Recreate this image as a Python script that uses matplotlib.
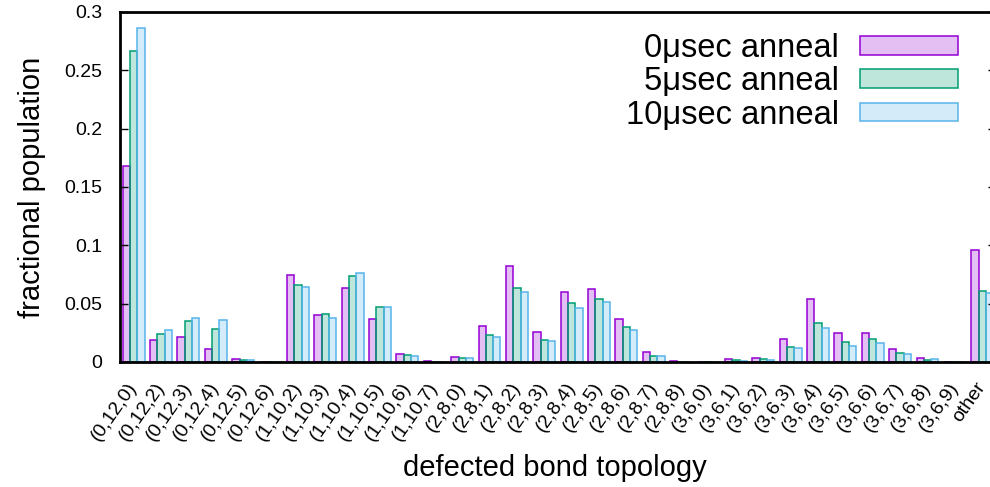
import numpy as np
import matplotlib
matplotlib.use("Agg")
import matplotlib.pyplot as plt
from matplotlib.colors import to_rgba

plt.rcParams['font.family'] = ['Liberation Sans', 'DejaVu Sans']

# defected bond topologies on the x axis
topologies = ["(0,12,0)", "(0,12,2)", "(0,12,3)", "(0,12,4)", "(0,12,5)", "(0,12,6)",
              "(1,10,2)", "(1,10,3)", "(1,10,4)", "(1,10,5)", "(1,10,6)", "(1,10,7)",
              "(2,8,0)", "(2,8,1)", "(2,8,2)", "(2,8,3)", "(2,8,4)", "(2,8,5)",
              "(2,8,6)", "(2,8,7)", "(2,8,8)", "(3,6,0)", "(3,6,1)", "(3,6,2)",
              "(3,6,3)", "(3,6,4)", "(3,6,5)", "(3,6,6)", "(3,6,7)", "(3,6,8)",
              "(3,6,9)", "other"]

# fractional population per anneal time
anneal_0 = [0.168, 0.0186, 0.0217, 0.0114, 0.0023, 0.0, 0.0749, 0.0403, 0.0634, 0.0366,
            0.0066, 0.0005, 0.0046, 0.0306, 0.082, 0.0257, 0.0603, 0.0623, 0.0366, 0.0089,
            0.0005, 0.0, 0.0023, 0.0034, 0.020, 0.0543, 0.0246, 0.0249, 0.0109, 0.0031,
            0.0, 0.0957]
anneal_5 = [0.2666, 0.0237, 0.0351, 0.028, 0.002, 0.0, 0.0663, 0.0409, 0.074, 0.0469,
            0.0063, 0.0002, 0.0031, 0.0229, 0.0631, 0.0191, 0.0503, 0.0543, 0.030, 0.0054,
            0.0002, 0.0, 0.0014, 0.0023, 0.0131, 0.0331, 0.0174, 0.0194, 0.0074, 0.0014,
            0.0, 0.0606]
anneal_10 = [0.286, 0.0272, 0.0377, 0.036, 0.0017, 0.0, 0.064, 0.0374, 0.076, 0.0469,
             0.0051, 0.0001, 0.003, 0.0217, 0.060, 0.0177, 0.0466, 0.0517, 0.0271, 0.0054,
             0.0001, 0.0, 0.001, 0.002, 0.0123, 0.0291, 0.014, 0.016, 0.0066, 0.0023,
             0.0, 0.0589]

series = [("0μsec anneal", anneal_0, "#9400d3"),
          ("5μsec anneal", anneal_5, "#009e73"),
          ("10μsec anneal", anneal_10, "#56b4e9")]

fig = plt.figure(figsize=(9.9, 4.87), dpi=100)
ax = fig.add_axes([0.1212, 0.2567, 0.8848, 0.7187])

x = np.arange(len(topologies))
w = 0.267
for i, (label, vals, col) in enumerate(series):
    ax.bar(x + (i - 1) * w, vals, width=w, facecolor=to_rgba(col, 0.25),
           edgecolor=col, linewidth=1.1, label=label)

ax.set_xlim(-0.5, len(topologies) - 0.5)
ax.set_ylim(0, 0.3)
ax.set_yticks([0, 0.05, 0.1, 0.15, 0.2, 0.25, 0.3])
ax.set_yticklabels(["0", "0.05", "0.1", "0.15", "0.2", "0.25", "0.3"])
ax.tick_params(axis='y', direction='in', length=6, width=1, labelsize=14,
               pad=13, right=True)
ax.set_xticks(x)
ax.set_xticklabels(topologies, rotation=55, ha='right', va='center',
                   rotation_mode='anchor', fontsize=14)
ax.tick_params(axis='x', length=0, pad=16)
for s in ax.spines.values():
    s.set_linewidth(2)

ax.set_ylabel("fractional population", fontsize=21, va='center')
ax.yaxis.set_label_coords(-0.101, 0.5)
ax.set_xlabel("defected bond topology", fontsize=21, va='center')
ax.xaxis.set_label_coords(0.497, -0.303)

ax.legend(loc='upper right', bbox_to_anchor=(958 / 990, 1 - 33 / 487),
          bbox_transform=fig.transFigure, frameon=False, markerfirst=False,
          fontsize=23.5, handlelength=3.0, handleheight=0.5, handletextpad=0.65,
          labelspacing=0.07, borderpad=0, borderaxespad=0)

fig.savefig("out.png", dpi=100)
